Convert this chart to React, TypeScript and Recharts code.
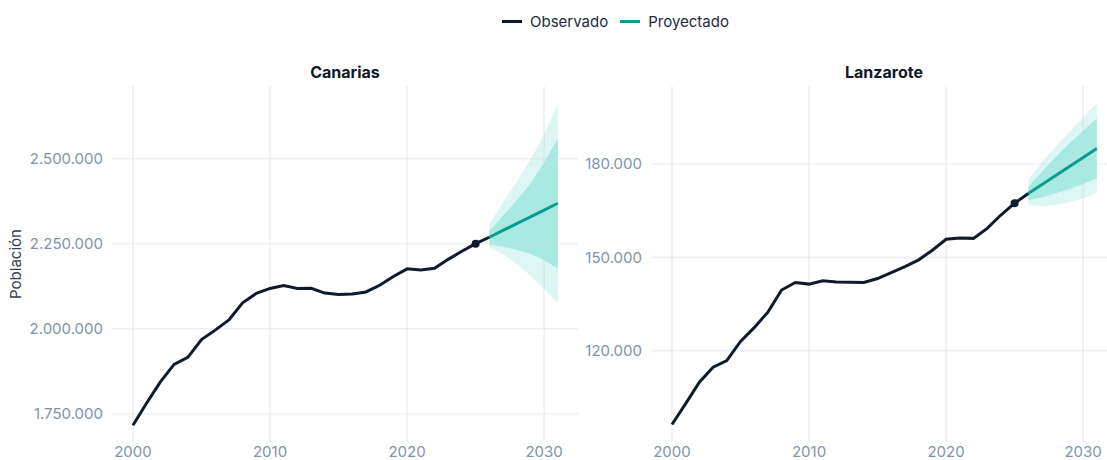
import { ComposedChart, Line, Area, XAxis, YAxis, ReferenceLine } from "recharts";

const years = [
  2000, 2001, 2002, 2003, 2004, 2005, 2006, 2007, 2008, 2009, 2010,
  2011, 2012, 2013, 2014, 2015, 2016, 2017, 2018, 2019, 2020,
  2021, 2022, 2023, 2024, 2025, 2026, 2027, 2028, 2029, 2030, 2031,
];
const projYears = [2026, 2027, 2028, 2029, 2030, 2031];
const xTicks = [2000, 2010, 2020, 2030];

// Canarias
const canObs = [
  1716300, 1781400, 1843800, 1894900, 1915500, 1968300, 1995800, 2026000, 2076000, 2104000,
  2118500, 2126800, 2118300, 2118700, 2104800, 2100300, 2101900, 2108100, 2127700, 2153400,
  2176000, 2172900, 2177700, 2204000, 2228000, 2250000, 2269000,
];
const canProj = [2269000, 2289000, 2309000, 2329000, 2349000, 2369000];
const canOuterLo = [2239000, 2220000, 2190000, 2156000, 2117000, 2076000];
const canOuterHi = [2308000, 2372000, 2432000, 2497000, 2573000, 2661000];
const canInnerLo = [2247000, 2242000, 2232000, 2220000, 2201000, 2177000];
const canInnerHi = [2288000, 2332000, 2377000, 2426000, 2489000, 2560000];
const canTicks = [1750000, 2000000, 2250000, 2500000];

// Lanzarote
const lanObs = [
  96300, 103000, 109900, 114700, 116800, 123000, 127400, 132400, 139500, 141900,
  141400, 142500, 142100, 142000, 141900, 143200, 145100, 147000, 149200, 152300,
  155800, 156200, 156100, 159300, 163600, 167400, 170500,
];
const lanProj = [170500, 173400, 176300, 179200, 182100, 185000];
const lanOuterLo = [166800, 166400, 166800, 167700, 169000, 170600];
const lanOuterHi = [174900, 180700, 185600, 190400, 195000, 199500];
const lanInnerLo = [168400, 169300, 170600, 172000, 173600, 175400];
const lanInnerHi = [172700, 177500, 182300, 186600, 190700, 194700];
const lanTicks = [120000, 150000, 180000];

const DARK = "#0f1b2d";
const TEAL = "#0c9c8b";
const BAND = "#3ccfbb";
// grid drawn semi-transparent so it reads as #edf0f4 on white but stays faint over the bands
const GRID = "#ccd4e0";
const GRID_OPACITY = 0.35;
const TICK = "#7d93ab";
const FONT = "Inter, 'Noto Sans', sans-serif";
const X_DOMAIN: [number, number] = [1998.47, 2032.47];
const LAST_OBS_YEAR = 2025;

const fmt = (v: number) => String(Math.round(v)).replace(/\B(?=(\d{3})+(?!\d))/g, ".");

function buildRows(obs: number[], proj: number[], oLo: number[], oHi: number[], iLo: number[], iHi: number[]) {
  return years.map((year, i) => {
    const j = projYears.indexOf(year);
    return {
      year,
      obs: i < obs.length ? obs[i] : null,
      proj: j >= 0 ? proj[j] : null,
      outer: j >= 0 ? [oLo[j], oHi[j]] : null,
      inner: j >= 0 ? [iLo[j], iHi[j]] : null,
    };
  });
}

function Panel({
  title, rows, domain, ticks, left, yWidth,
}: {
  title: string;
  rows: ReturnType<typeof buildRows>;
  domain: [number, number];
  ticks: number[];
  left: number;
  yWidth: number;
}) {
  const plotW = 466;
  const w = yWidth + plotW;
  return (
    <div style={{ position: "absolute", left, top: 0, width: w, height: 460 }}>
      <div style={{
        position: "absolute", left: yWidth, width: plotW, top: 61, textAlign: "center",
        fontFamily: FONT, fontWeight: 700, fontSize: 16, color: "#111827", lineHeight: "22px",
      }}>
        {title}
      </div>
      <ComposedChart width={w} height={460} data={rows}
        margin={{ top: 86, right: 0, left: 0, bottom: 0 }}>
        <XAxis dataKey="year" type="number" domain={X_DOMAIN} ticks={xTicks} allowDataOverflow
          axisLine={false} tickLine={false} tickSize={2} tickMargin={2} height={18}
          tick={{ fill: TICK, fontSize: 15, fontFamily: FONT }} />
        <YAxis domain={domain} ticks={ticks} allowDataOverflow width={yWidth}
          axisLine={false} tickLine={false} tickSize={6} tickMargin={3}
          tickFormatter={fmt}
          tick={{ fill: TICK, fontSize: 15, fontFamily: FONT }} />
        {xTicks.map(t => (
          <ReferenceLine key={"x" + t} x={t} stroke={GRID} strokeOpacity={GRID_OPACITY} strokeWidth={1.6} />
        ))}
        {ticks.map(t => (
          <ReferenceLine key={"y" + t} y={t} stroke={GRID} strokeOpacity={GRID_OPACITY} strokeWidth={1.6} />
        ))}
        <Area dataKey="outer" type="linear" stroke="none" fill={BAND} fillOpacity={0.18}
          isAnimationActive={false} />
        <Area dataKey="inner" type="linear" stroke="none" fill={BAND} fillOpacity={0.32}
          isAnimationActive={false} />
        <Line dataKey="obs" type="linear" stroke={DARK} strokeWidth={3} isAnimationActive={false}
          dot={(p: any) => p.payload.year === LAST_OBS_YEAR
            ? <circle key={p.key} cx={p.cx} cy={p.cy} r={4} fill={DARK} />
            : <g key={p.key} />}
          activeDot={false} />
        <Line dataKey="proj" type="linear" stroke={TEAL} strokeWidth={3} dot={false}
          isAnimationActive={false} activeDot={false} />
      </ComposedChart>
    </div>
  );
}

export default function App() {
  const canRows = buildRows(canObs, canProj, canOuterLo, canOuterHi, canInnerLo, canInnerHi);
  const lanRows = buildRows(lanObs, lanProj, lanOuterLo, lanOuterHi, lanInnerLo, lanInnerHi);
  return (
    <div style={{
      position: "absolute", left: 0, top: 0, width: 1107, height: 460, overflow: "hidden",
      background: "#fff", fontFamily: FONT,
    }}>
      <div style={{
        position: "absolute", top: 12, left: 0, width: 1107, display: "flex",
        justifyContent: "center", alignItems: "center", gap: 8, fontSize: 15, color: "#1e293b",
        paddingLeft: 124, boxSizing: "border-box",
      }}>
        <span style={{ width: 20, height: 3, background: DARK, display: "inline-block" }} />
        <span>Observado</span>
        <span style={{ width: 20, height: 3, background: TEAL, display: "inline-block", marginLeft: 4 }} />
        <span>Proyectado</span>
      </div>
      <div style={{
        position: "absolute", left: 15, top: 264, transform: "translate(-50%, -50%) rotate(-90deg)",
        fontSize: 15, color: "#334155", whiteSpace: "nowrap",
      }}>
        Población
      </div>
      <Panel title="Canarias" rows={canRows} domain={[1666800, 2713800]} ticks={canTicks}
        left={0} yWidth={112} />
      <Panel title="Lanzarote" rows={lanRows} domain={[90660, 205067]} ticks={lanTicks}
        left={579} yWidth={72} />
    </div>
  );
}
